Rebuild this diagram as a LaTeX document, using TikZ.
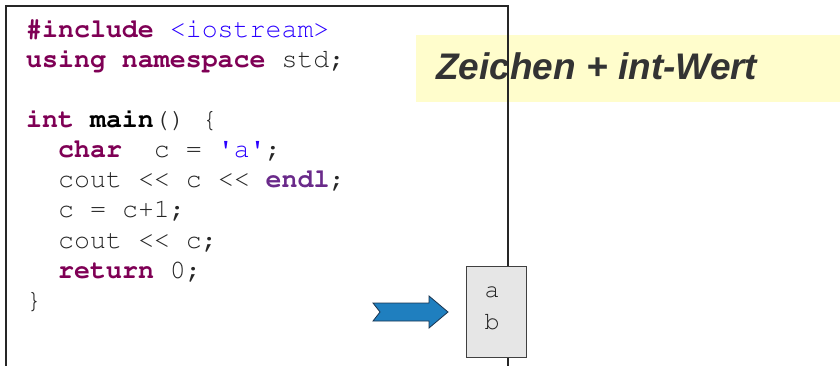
\documentclass[tikz,border=0pt]{standalone}
\usepackage[T1]{fontenc}
\usepackage{fontspec}
\setmainfont{Liberation Serif}
\setsansfont{Liberation Sans}
\definecolor{kwc}{HTML}{7F0055}
\definecolor{endlc}{HTML}{6A2A8A}
\definecolor{strc}{HTML}{2A00FF}
\definecolor{txtc}{HTML}{262626}
\definecolor{yel}{HTML}{FFFDCC}
\definecolor{titc}{HTML}{333333}
\definecolor{arrfill}{HTML}{1F7FBF}
\definecolor{arrline}{HTML}{1A3550}
\definecolor{outfill}{HTML}{E6E6E6}
\newcommand{\courierfont}{\fontencoding{T1}\fontfamily{pcr}\selectfont}
\newcommand{\kwd}[1]{{\bfseries\color{kwc}#1}}
\newcommand{\strl}[1]{{\color{strc}#1}}
\newcommand{\ewd}[1]{{\bfseries\color{endlc}#1}}
\begin{document}
\begin{tikzpicture}[x=1pt,y=-1pt,
  codeline/.style={anchor=base west,inner sep=0pt,font=\fontsize{26.6}{30}\courierfont,text=txtc},
  frame/.style={draw=txtc,line width=1.3pt},
  outbox/.style={draw=black!75,fill=outfill,line width=0.9pt},
  outtext/.style={anchor=base,inner sep=0pt,font=\fontsize{25}{30}\courierfont,text=txtc},
  titlebox/.style={fill=yel,draw=none},
  titletext/.style={anchor=base west,inner sep=0pt,font=\sffamily\bfseries\itshape\fontsize{37}{40}\selectfont,text=titc},
  arrowshape/.style={fill=arrfill,draw=arrline,line width=0.8pt,line join=miter}]
\useasboundingbox (0,0) rectangle (840,366);
% yellow title box
\fill[titlebox] (416,35) rectangle (840,102);
\node[titletext] (title) at (436,80) {Zeichen + int-Wert};
% code frame
\draw[frame] (6,370) -- (6,6) -- (508,6) -- (508,370);
% code lines
\node[codeline] (l1) at (26,38) {\kwd{\#include}\ \strl{<iostream>}};
\node[codeline] (l2) at (26,68) {\kwd{using}\ \kwd{namespace}\ std;};
\node[codeline] (l4) at (26,128) {\kwd{int}\ \textbf{\color{black}main}()\ \{};
\node[codeline] (l5) at (58,158) {\kwd{char}\ \ c\ =\ \strl{\textquotesingle a\textquotesingle};};
\node[codeline] (l6) at (58,188) {cout\ <{}<\ c\ <{}<\ \ewd{endl};};
\node[codeline] (l7) at (58,218) {c\ =\ c+1;};
\node[codeline] (l8) at (58,248) {cout\ <{}<\ c;};
\node[codeline] (l9) at (58,278) {\kwd{return}\ 0;};
\node[codeline] (l10) at (26,308) {\}};
% arrow
\draw[arrowshape] (373,303) -- (429,303) -- (429,296) -- (448,312) -- (429,328) -- (429,321) -- (373,321) -- (380,312) -- cycle;
% output box
\draw[outbox] (466,266) rectangle (526,357);
\node[outtext] (oa) at (492,297) {a};
\node[outtext] (ob) at (492,329) {b};
\end{tikzpicture}
\end{document}
